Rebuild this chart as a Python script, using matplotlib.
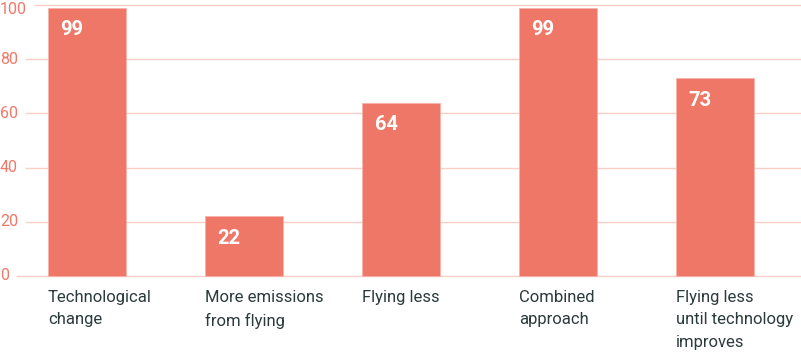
import matplotlib
matplotlib.use("Agg")
import matplotlib.pyplot as plt

# chart data
categories = ["Technological\nchange", "More emissions\nfrom flying", "Flying less",
              "Combined\napproach", "Flying less\nuntil technology\nimproves"]
values = [99, 22, 64, 99, 73]
y_ticks = [0, 20, 40, 60, 80, 100]

bar_color = "#ee7767"
grid_color = "#f9cfc8"
tick_color = "#ef7a6a"
text_color = "#2b3a3b"

plt.rcParams["font.family"] = ["Roboto", "DejaVu Sans"]

W, H, DPI = 801, 353, 100
fig = plt.figure(figsize=(W / DPI, H / DPI), dpi=DPI)
ax = fig.add_axes([0, 0, 1, 1])
ax.axis("off")

# pixel mapping: bar centres at 87 + 157*i, y=0 at 276 px from top, 2.71 px per unit
px_x = 157.0
x0 = 87.0
ax.set_xlim(-x0 / px_x, (W - x0) / px_x)
ybase, ppu = 276.0, 2.71
ax.set_ylim(-(H - ybase) / ppu, ybase / ppu)

xs = list(range(len(values)))
width = 78 / px_x
ax.bar(xs, values, width=width, color=bar_color, edgecolor="#f6b3aa",
       linewidth=0.6, zorder=2)

# y tick labels and gridlines starting after the label
fig.canvas.draw()
renderer = fig.canvas.get_renderer()
left = ax.get_xlim()[0]
for t in y_ticks:
    ty = min(t, 98.4)
    txt = ax.text(left, ty, str(t), ha="left", va="center", color=tick_color,
                  fontsize=11.5)
    bb = txt.get_window_extent(renderer=renderer)
    start = left + (bb.x1 + 7) / px_x
    ax.hlines(t, start, ax.get_xlim()[1], color=grid_color, linewidth=1, zorder=1)

# value labels inside bars
for x, v in zip(xs, values):
    ax.annotate(str(v), (x - width / 2, v), xytext=(9, -9), textcoords="offset points",
                ha="left", va="top", color="white", fontsize=14.5, fontweight="bold")

# category labels under bars
for x, c in zip(xs, categories):
    ax.text(x - width / 2, -5.0, c, ha="left", va="top", color=text_color,
            fontsize=12, linespacing=1.65)

fig.savefig("out.png", dpi=DPI)
